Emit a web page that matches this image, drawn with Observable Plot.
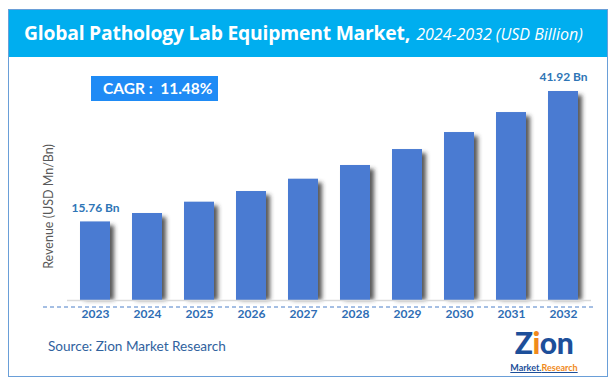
<!DOCTYPE html>
<html>
<head>
<meta charset="utf-8">
<script src="https://cdn.jsdelivr.net/npm/d3@7"></script>
<script src="https://cdn.jsdelivr.net/npm/@observablehq/plot@0.6"></script>
<style>
  html, body { margin: 0; padding: 0; background: #fff; }
  #wrap { position: relative; width: 616px; height: 387px; overflow: hidden; font-family: Lato, "Open Sans", sans-serif; }
  #border { position: absolute; left: 8px; top: 9px; width: 600px; height: 368px; box-sizing: border-box; border: 1.5px solid #6a9fd8; pointer-events: none; z-index: 5; }
  #band { position: absolute; left: 8px; top: 9px; width: 600px; height: 48px; background: #00aeef; }
  #title { position: absolute; left: 24px; top: 9px; height: 48px; line-height: 48px; color: #fff; white-space: nowrap; font-family: "Open Sans", sans-serif; }
  #title b { font-size: 19.3px; font-weight: 700; letter-spacing: -0.2px; }
  #title i { font-size: 16px; font-weight: 400; margin-left: 2px; }
  #cagr { position: absolute; left: 91px; top: 76px; width: 127px; height: 25px; line-height: 25px; background: #1f8bf5; color: #fff; font-weight: 700; font-size: 15.5px; padding-left: 12px; box-sizing: border-box; white-space: nowrap; }
  #chart { position: absolute; left: 0; top: 57px; }
  #source { position: absolute; left: 48px; top: 338px; font-size: 13.6px; color: #30629e; }
  #logoZ { position: absolute; left: 508px; top: 327px; width: 72px; text-align: center; font-family: Lato, sans-serif; font-weight: 900; font-size: 30px; line-height: 30px; color: #1d4f9a; letter-spacing: -0.5px; }
  #logoZ span { color: #f08a1c; }
  #logoM { position: absolute; left: 507px; top: 363px; width: 74px; text-align: center; font-family: Lato, sans-serif; font-weight: 700; font-size: 9px; line-height: 9px; color: #1d4f9a; text-decoration: underline; white-space: nowrap; }
  #logoM span { color: #f08a1c; }
</style>
</head>
<body>
<div id="wrap">
  <div id="band"></div>
  <div id="title"><b>Global Pathology Lab Equipment Market,</b> <i>2024-2032 (USD Billion)</i></div>
  <div id="cagr">CAGR :&nbsp; 11.48%</div>
  <div id="chart"></div>
  <div id="source">Source: Zion Market Research</div>
  <div id="logoZ">Z<span>i</span>on</div>
  <div id="logoM">Market.<span>Research</span></div>
  <div id="border"></div>
</div>
<script>
const years = ["2023", "2024", "2025", "2026", "2027", "2028", "2029", "2030", "2031", "2032"];
const revenue = [15.76, 17.45, 19.72, 21.86, 24.33, 27.08, 30.28, 33.69, 37.70, 41.92];
const labelledYears = ["2023", "2032"];
const yLabel = "Revenue (USD Mn/Bn)";

const data = years.map((year, i) => ({year, value: revenue[i]}));

const chart = Plot.plot({
  width: 616,
  height: 270,
  marginLeft: 67,
  marginRight: 25,
  marginTop: 34,
  marginBottom: 27,
  style: {fontFamily: "Lato, 'Open Sans', sans-serif", background: "transparent", overflow: "visible"},
  x: {domain: years, paddingInner: 0.43, paddingOuter: 0.22, label: null},
  y: {domain: [0, 41.92], axis: null},
  marks: [
    Plot.barY(data, {x: "year", y: "value", fill: "#3a3a3a", fillOpacity: 0.85, dx: 4, insetTop: 4}),
    Plot.barY(data, {x: "year", y: "value", fill: "#4a7bd2"}),
    Plot.ruleY([0], {stroke: "#d9d9d9", strokeWidth: 1.5}),
    Plot.ruleY([0], {stroke: "#4a7ec8", strokeDasharray: "4,3", dy: 6.5, insetLeft: -24, insetRight: -5}),
    Plot.axisX({tickSize: 0, tickPadding: 9, color: "#2e6db4", fontSize: 12, fontWeight: "bold", label: null}),
    Plot.text(data, {filter: d => labelledYears.includes(d.year), x: "year", y: "value", text: d => d.value.toFixed(2) + " Bn", dy: -14, fill: "#2e75b6", fontSize: 12, fontWeight: "bold"}),
    Plot.text([yLabel], {frameAnchor: "left", textAnchor: "middle", rotate: -90, dx: -19, dy: 10.5, fill: "#595959", fontSize: 12.5})
  ]
});

// soft drop shadow for the bars (first bar group)
const svg = d3.select(chart);
const defs = svg.insert("defs", ":first-child");
defs.append("filter").attr("id", "barShadow")
  .attr("x", "-50%").attr("y", "-10%").attr("width", "200%").attr("height", "120%")
  .append("feGaussianBlur").attr("stdDeviation", 2);
const barGroups = svg.selectAll("g[aria-label=bar]").nodes();
if (barGroups.length) barGroups[0].setAttribute("filter", "url(#barShadow)");

document.getElementById("chart").appendChild(chart);
</script>
</body>
</html>
